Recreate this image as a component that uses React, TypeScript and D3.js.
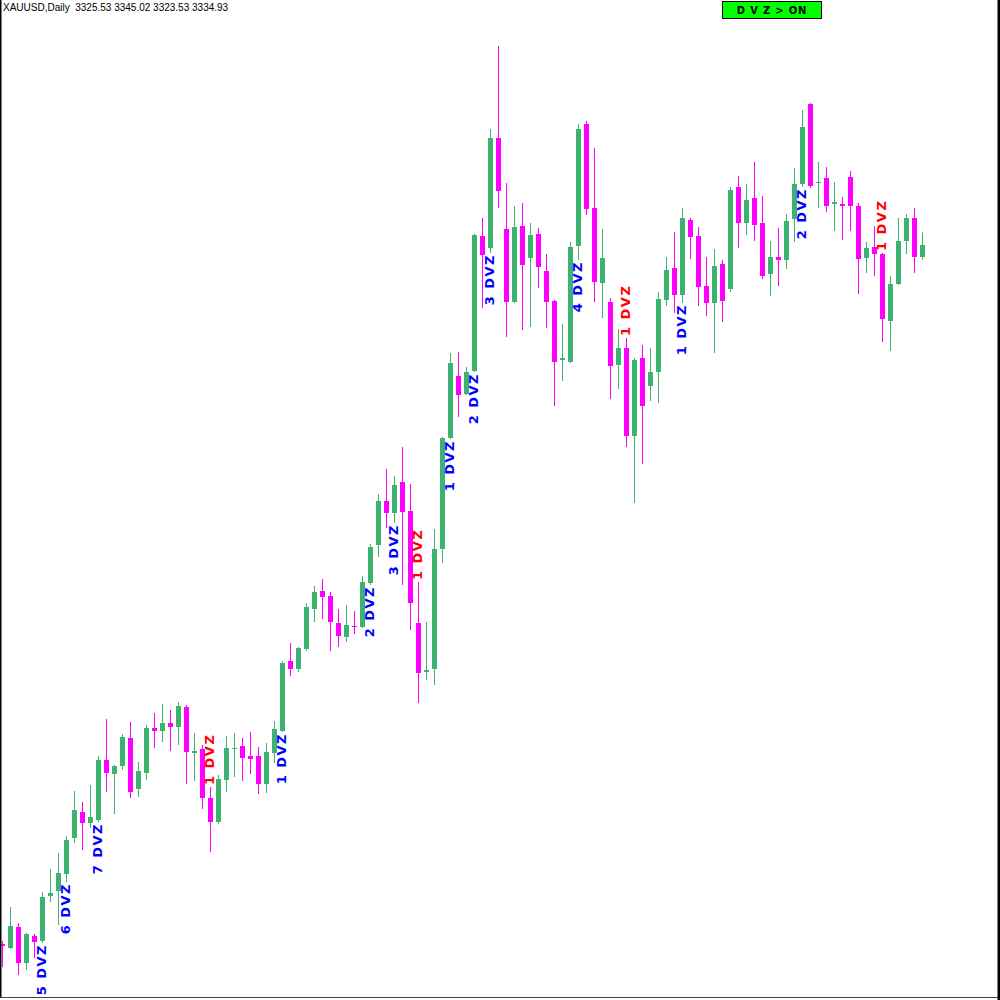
import React from 'react';
import * as d3 from 'd3';

const symbol = 'XAUUSD';
const timeframe = 'Daily';

const opens = [
  2775.8, 2772.6, 2789.4, 2760.6, 2782.2, 2778.2, 2814.2, 2818.2, 2831.8, 2860.6,
  2881.4, 2872.6, 2875.0, 2923.0, 2911.8, 2918.2, 2940.6, 2899.8, 2912.6, 2948.6,
  2946.2, 2952.6, 2949.4, 2965.4, 2928.6, 2931.8, 2892.6, 2873.4, 2907.0, 2931.8,
  2934.2, 2926.2, 2926.2, 2903.8, 2928.6, 2946.2, 3002.2, 2995.8, 3011.8, 3043.8,
  3058.2, 3054.2, 3032.6, 3021.4, 3030.2, 3029.4, 3064.6, 3095.0, 3130.2, 3120.6,
  3145.4, 3122.2, 3032.6, 2993.4, 2995.8, 3091.8, 3180.6, 3230.2, 3215.8, 3234.2,
  3342.2, 3332.6, 3420.6, 3347.8, 3289.4, 3350.2, 3324.6, 3343.8, 3314.2, 3290.2,
  3243.0, 3241.4, 3334.2, 3431.8, 3364.6, 3304.6, 3289.4, 3239.0, 3252.6, 3182.2,
  3244.6, 3222.2, 3233.4, 3291.0, 3316.6, 3295.0, 3355.0, 3342.2, 3302.2, 3288.6,
  3319.8, 3299.8, 3381.4, 3352.6, 3372.6, 3352.6, 3311.8, 3325.4, 3323.0, 3355.8,
  3383.8, 3447.8, 3384.6, 3388.6, 3367.8, 3367.8, 3389.4, 3366.2, 3324.6, 3333.4,
  3327.8, 3274.2, 3303.8, 3338.2, 3356.6, 3325.53,
];

const highs = [
  2778.2, 2805.4, 2792.6, 2784.6, 2783.8, 2817.4, 2835.8, 2848.6, 2862.2, 2898.2,
  2889.4, 2903.0, 2926.2, 2955.8, 2919.0, 2943.8, 2953.4, 2921.4, 2951.0, 2960.6,
  2967.8, 2963.0, 2969.4, 2967.0, 2944.6, 2935.0, 2901.4, 2911.0, 2942.2, 2944.6,
  2940.6, 2945.4, 2933.4, 2936.6, 2954.2, 3002.2, 3016.6, 3013.4, 3048.6, 3062.2,
  3067.8, 3057.4, 3043.8, 3047.0, 3042.2, 3070.2, 3095.8, 3135.8, 3155.8, 3150.2,
  3173.4, 3143.8, 3065.4, 3033.4, 3107.8, 3181.4, 3248.6, 3249.4, 3237.4, 3343.8,
  3356.6, 3427.8, 3494.2, 3384.6, 3366.2, 3368.6, 3352.6, 3348.6, 3327.8, 3291.0,
  3271.8, 3337.4, 3431.8, 3434.2, 3412.6, 3347.8, 3292.6, 3267.8, 3260.6, 3244.6,
  3255.0, 3252.6, 3297.4, 3325.4, 3345.4, 3364.6, 3356.6, 3349.4, 3325.4, 3331.8,
  3323.0, 3381.4, 3390.2, 3383.8, 3401.4, 3374.2, 3338.2, 3348.6, 3359.8, 3396.6,
  3443.0, 3448.6, 3401.4, 3397.4, 3385.4, 3373.4, 3394.2, 3368.6, 3337.4, 3350.2,
  3328.6, 3310.2, 3356.6, 3359.8, 3364.6, 3345.02,
];

const lows = [
  2757.4, 2771.8, 2751.0, 2755.0, 2764.6, 2776.6, 2809.4, 2791.0, 2825.4, 2856.6,
  2851.0, 2868.6, 2873.4, 2897.4, 2879.8, 2915.0, 2892.6, 2893.4, 2907.0, 2932.6,
  2937.4, 2930.2, 2935.0, 2903.8, 2906.2, 2883.8, 2849.4, 2871.8, 2897.4, 2909.4,
  2906.2, 2911.8, 2895.8, 2896.6, 2920.6, 2945.4, 2990.2, 2993.4, 3010.2, 3033.4,
  3035.8, 3010.2, 3013.4, 3017.4, 3023.8, 3028.6, 3063.0, 3085.4, 3108.6, 3112.6,
  3063.0, 3027.0, 2968.6, 2987.0, 2983.0, 3080.6, 3179.8, 3197.4, 3215.0, 3233.4,
  3284.6, 3328.6, 3364.6, 3261.4, 3288.6, 3267.0, 3269.4, 3300.6, 3268.6, 3206.2,
  3226.2, 3240.6, 3323.0, 3359.0, 3289.4, 3276.6, 3211.8, 3219.8, 3173.4, 3128.6,
  3159.8, 3210.2, 3208.6, 3286.2, 3280.6, 3288.6, 3323.8, 3286.2, 3278.2, 3248.6,
  3273.4, 3297.4, 3332.6, 3343.0, 3338.2, 3307.8, 3294.2, 3302.2, 3315.8, 3337.4,
  3381.4, 3380.6, 3364.6, 3361.4, 3346.2, 3339.0, 3346.2, 3295.8, 3312.6, 3310.2,
  3257.4, 3250.2, 3303.0, 3327.8, 3312.6, 3323.53,
];

const closes = [
  2774.6, 2790.2, 2760.6, 2783.8, 2777.4, 2813.4, 2816.6, 2832.6, 2859.0, 2883.0,
  2872.6, 2877.4, 2923.0, 2912.6, 2918.2, 2941.4, 2897.4, 2914.2, 2948.6, 2946.2,
  2952.6, 2949.4, 2966.2, 2929.4, 2930.2, 2892.6, 2873.4, 2907.8, 2932.6, 2932.6,
  2924.6, 2923.8, 2903.8, 2929.4, 2947.8, 3000.6, 2995.8, 3012.6, 3045.4, 3057.4,
  3053.4, 3033.4, 3022.2, 3031.0, 3029.4, 3065.4, 3093.4, 3130.2, 3120.6, 3143.0,
  3121.4, 3048.6, 2992.6, 2995.0, 3091.8, 3180.6, 3240.6, 3215.0, 3233.4, 3343.0,
  3327.0, 3420.6, 3378.2, 3289.4, 3349.4, 3319.0, 3343.0, 3317.4, 3289.4, 3241.4,
  3244.6, 3333.4, 3427.8, 3363.8, 3305.4, 3324.6, 3238.2, 3252.6, 3182.2, 3243.0,
  3206.2, 3233.4, 3291.8, 3315.0, 3295.0, 3356.6, 3341.4, 3301.4, 3288.6, 3318.2,
  3290.2, 3379.0, 3352.6, 3371.0, 3351.0, 3310.2, 3325.4, 3323.0, 3354.2, 3383.8,
  3429.4, 3382.2, 3385.4, 3366.2, 3369.4, 3366.2, 3366.2, 3323.8, 3332.6, 3327.8,
  3275.8, 3303.8, 3338.2, 3356.6, 3325.4, 3334.93,
];

const labelIndex = [5, 8, 12, 26, 35, 46, 49, 52, 56, 59, 61, 72, 78, 85, 100, 110];
const labelText = [
  '5 DVZ', '6 DVZ', '7 DVZ', '1 DVZ', '1 DVZ', '2 DVZ', '3 DVZ', '1 DVZ',
  '1 DVZ', '2 DVZ', '3 DVZ', '4 DVZ', '1 DVZ', '1 DVZ', '2 DVZ', '1 DVZ',
];
const labelBull = [
  true, true, true, false, true, true, true, false,
  true, true, true, true, false, true, true, false,
];

const buttonText = 'D V Z > ON';

const UP = '#3CB371';
const DOWN = '#FF00FF';

export default function App() {
  React.useEffect(() => {
    document.body.style.margin = '0';
  }, []);

  const n = Math.min(opens.length, highs.length, lows.length, closes.length);
  const x = d3.scaleLinear().domain([0, 115]).range([2.5, 922.5]);
  const y = d3.scaleLinear().domain([2731, 3531]).range([1000, 0]);
  const bodyW = 5;

  const candles = d3.range(n).map((i) => {
    const o = opens[i], h = highs[i], l = lows[i], c = closes[i];
    const up = c >= o;
    const top = Math.round(y(Math.max(o, c)));
    const bot = Math.round(y(Math.min(o, c)));
    return { i, cx: x(i), up, top, bh: Math.max(1, bot - top), yh: y(h), yl: y(l) };
  });

  const last = n - 1;
  const header = `${symbol},${timeframe}  ${opens[last].toFixed(2)} ${highs[last].toFixed(2)} ${lows[last].toFixed(2)} ${closes[last].toFixed(2)}`;

  return (
    <svg
      width={1000}
      height={1000}
      style={{ position: 'absolute', left: 0, top: 0, display: 'block', background: '#fff' }}
    >
      <rect x={0} y={0} width={1000} height={1000} fill="#fff" />
      <g>
        {candles.map((d) => (
          <g key={d.i} fill={d.up ? UP : DOWN} stroke="none">
            <rect x={d.cx - 0.5} y={d.yh} width={1} height={Math.max(1, d.yl - d.yh)} />
            <rect x={d.cx - bodyW / 2} y={d.top} width={bodyW} height={d.bh} />
          </g>
        ))}
      </g>
      <g fontFamily="'DejaVu Sans', Verdana, sans-serif" fontWeight="bold" fontSize={13} style={{ letterSpacing: '1.5px' }}>
        {labelIndex.map((idx, k) => {
          const bull = labelBull[k];
          const cx = x(idx) - 1.5;
          const yy = bull ? y(lows[idx]) + 1 : y(highs[idx]) - 2;
          return (
            <text
              key={k}
              transform={`translate(${cx},${yy}) rotate(-90)`}
              dy="0.36em"
              textAnchor={bull ? 'end' : 'start'}
              fill={bull ? '#0000FF' : '#FF0000'}
            >
              {labelText[k]}
            </text>
          );
        })}
      </g>
      <text
        x={3}
        y={11}
        fontFamily="'Liberation Sans', Arial, sans-serif"
        fontSize={10}
        fill="#000"
        style={{ whiteSpace: 'pre' }}
      >
        {header}
      </text>
      <rect x={722.5} y={1.5} width={99} height={17} fill="#00FF00" stroke="#000" strokeWidth={1} />
      <text
        x={772}
        y={14}
        textAnchor="middle"
        fontFamily="'DejaVu Sans', Verdana, sans-serif"
        fontWeight="bold"
        fontSize={10}
        fill="#000"
        style={{ letterSpacing: '0.8px', whiteSpace: 'pre' }}
      >
        {buttonText}
      </text>
      <rect x={0} y={0} width={1.5} height={998} fill="#000" />
      <rect x={997.5} y={0} width={2.5} height={1000} fill="#000" />
      <rect x={0} y={997} width={998} height={1} fill="#444" />
    </svg>
  );
}
